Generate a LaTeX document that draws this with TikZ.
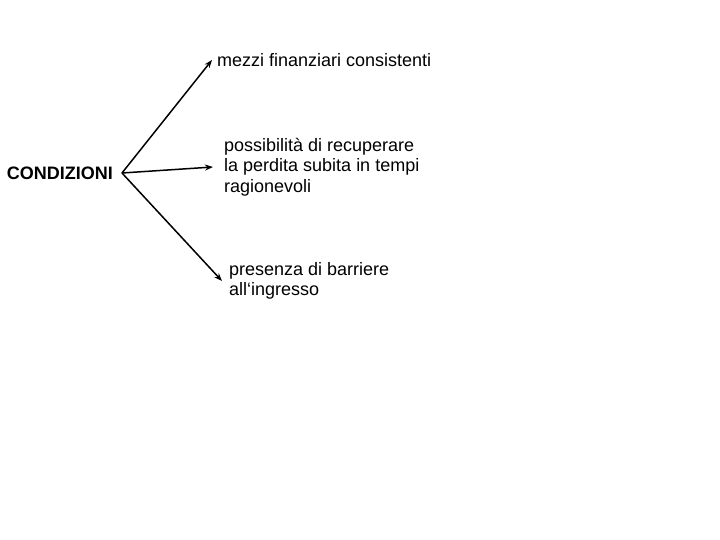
\documentclass[tikz,border=0pt]{standalone}
\usepackage{fontspec}
\setmainfont{Liberation Sans}
\usetikzlibrary{positioning}
\usetikzlibrary{arrows.meta}

\begin{document}
\begin{tikzpicture}[x=1pt, y=-1pt, every node/.style={align=left, inner sep=3pt, font=\fontsize{18}{20.5}\selectfont}, conn/.style={-{Stealth[length=8pt, width=6pt]}, line width=1.5pt}]
    \useasboundingbox (0,0) rectangle (720,540);
    \node (cond) [anchor=east, inner xsep=9pt, font=\fontsize{18}{20.5}\selectfont\bfseries] at (122,173) {CONDIZIONI};
    \node (mezzi) [anchor=west, inner xsep=5pt] at (212,60) {mezzi finanziari consistenti};
    \node (perdita) [anchor=west, inner xsep=11pt] at (213,167) {possibilità di recuperare\\la perdita subita in tempi\\ragionevoli};
    \node (barriere) [anchor=west, inner xsep=7pt] at (222,281) {presenza di barriere\\all‘ingresso};

    \draw[conn] (cond.east) -- (mezzi.west);
    \draw[conn] (cond.east) -- (perdita.west);
    \draw[conn] (cond.east) -- (barriere.west);
\end{tikzpicture}
\end{document}
